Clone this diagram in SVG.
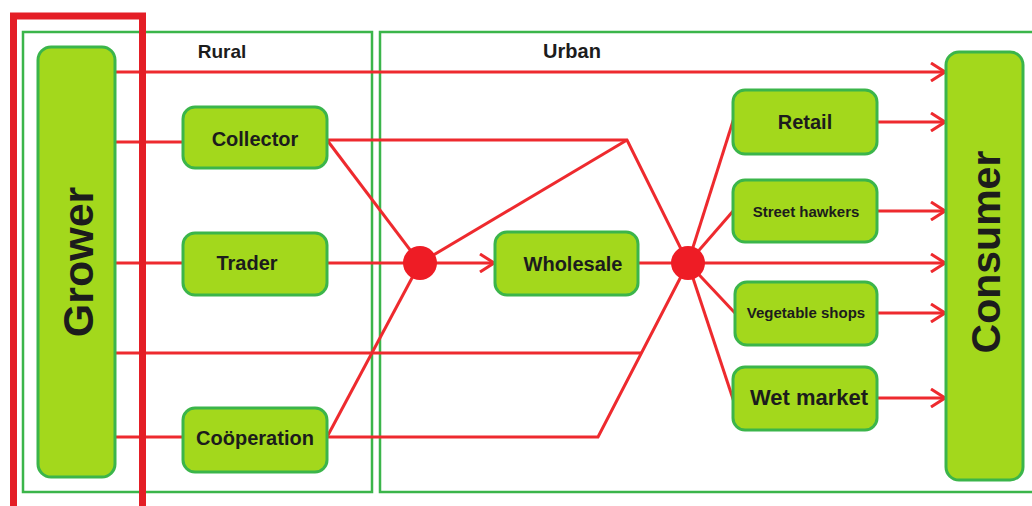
<svg xmlns="http://www.w3.org/2000/svg" width="1032" height="506" viewBox="0 0 1032 506">
<style>
.region{fill:none;stroke:#3bb54a;stroke-width:2.5}
.box{fill:#a3d81c;stroke:#3bb54a;stroke-width:3}
.lbl{font-family:"Liberation Sans",Arial,sans-serif;font-weight:bold;fill:#1c1c1c;text-anchor:middle;dominant-baseline:central}
.ln{fill:none;stroke:#ee2a2e;stroke-width:3;stroke-linejoin:miter}
.arr{fill:none;stroke:#ee2a2e;stroke-width:3}
.dot{fill:#ee1c25}
</style>
<defs>
<marker id="ah" viewBox="0 0 16 20" refX="15" refY="10" markerWidth="16" markerHeight="20" markerUnits="userSpaceOnUse" orient="auto">
<polyline points="1,1 15,10 1,19" fill="none" stroke="#ee2a2e" stroke-width="3"/>
</marker>
</defs>
<rect width="1032" height="506" fill="#ffffff"/>
<g id="regions">
<rect class="region" x="23" y="32" width="349" height="460"/>
<rect class="region" x="380" y="32" width="660" height="460"/>
<text class="lbl" x="222" y="51" style="font-size:19px">Rural</text>
<text class="lbl" x="572" y="51" style="font-size:20px">Urban</text>
</g>
<g id="connectors">
<line class="ln" x1="115" y1="72" x2="945" y2="72" marker-end="url(#ah)"/>
<line class="ln" x1="115" y1="142" x2="183" y2="142"/>
<polyline class="ln" points="327,140 627,140 688,263"/>
<line class="ln" x1="327" y1="140" x2="420" y2="263"/>
<line class="ln" x1="420" y1="263" x2="627" y2="140"/>
<line class="ln" x1="115" y1="263" x2="183" y2="263"/>
<line class="ln" x1="327" y1="263" x2="420" y2="263"/>
<line class="ln" x1="420" y1="263" x2="494" y2="263" marker-end="url(#ah)"/>
<line class="ln" x1="638" y1="263" x2="688" y2="263"/>
<line class="ln" x1="688" y1="263" x2="945" y2="263" marker-end="url(#ah)"/>
<line class="ln" x1="115" y1="353" x2="641" y2="353"/>
<line class="ln" x1="115" y1="437" x2="183" y2="437"/>
<polyline class="ln" points="327,437 598,437 688,263"/>
<line class="ln" x1="327" y1="437" x2="420" y2="263"/>
<line class="ln" x1="688" y1="263" x2="734" y2="118"/>
<line class="ln" x1="688" y1="263" x2="734" y2="210"/>
<line class="ln" x1="688" y1="263" x2="735" y2="313"/>
<line class="ln" x1="688" y1="263" x2="734" y2="402"/>
<line class="ln" x1="877" y1="122" x2="945" y2="122" marker-end="url(#ah)"/>
<line class="ln" x1="877" y1="211" x2="945" y2="211" marker-end="url(#ah)"/>
<line class="ln" x1="877" y1="313" x2="945" y2="313" marker-end="url(#ah)"/>
<line class="ln" x1="877" y1="398" x2="945" y2="398" marker-end="url(#ah)"/>
<circle class="dot" cx="420" cy="263" r="17"/>
<circle class="dot" cx="688" cy="263" r="17"/>
</g>
<g id="grower">
<rect class="box" x="38" y="47" width="77" height="430" rx="13"/>
<text class="lbl" transform="translate(78,262) rotate(-90)" style="font-size:43px">Grower</text>
</g>
<g id="collector">
<rect class="box" x="183" y="107" width="144" height="61" rx="12"/>
<text class="lbl" x="255" y="139" style="font-size:20px">Collector</text>
</g>
<g id="trader">
<rect class="box" x="183" y="233" width="144" height="62" rx="12"/>
<text class="lbl" x="247" y="263" style="font-size:20px">Trader</text>
</g>
<g id="cooperation">
<rect class="box" x="183" y="408" width="144" height="64" rx="12"/>
<text class="lbl" x="255" y="438" style="font-size:20px">Coöperation</text>
</g>
<g id="wholesale">
<rect class="box" x="495" y="232" width="143" height="63" rx="12"/>
<text class="lbl" x="573" y="264" style="font-size:20px">Wholesale</text>
</g>
<g id="retail">
<rect class="box" x="733" y="90" width="144" height="64" rx="12"/>
<text class="lbl" x="805" y="122" style="font-size:20px">Retail</text>
</g>
<g id="street-hawkers">
<rect class="box" x="733" y="180" width="144" height="62" rx="12"/>
<text class="lbl" x="806" y="211" style="font-size:15px">Street hawkers</text>
</g>
<g id="vegetable-shops">
<rect class="box" x="735" y="282" width="142" height="63" rx="12"/>
<text class="lbl" x="806" y="312" style="font-size:15px">Vegetable shops</text>
</g>
<g id="wet-market">
<rect class="box" x="733" y="367" width="144" height="63" rx="12"/>
<text class="lbl" x="809" y="397" style="font-size:22px">Wet market</text>
</g>
<g id="consumer">
<rect class="box" x="946" y="52" width="77" height="428" rx="13"/>
<text class="lbl" transform="translate(986,252) rotate(-90)" style="font-size:41px">Consumer</text>
</g>
<g id="highlight">
<rect x="13.5" y="16" width="129" height="500" fill="none" stroke="#e41e26" stroke-width="7"/>
</g>
</svg>
